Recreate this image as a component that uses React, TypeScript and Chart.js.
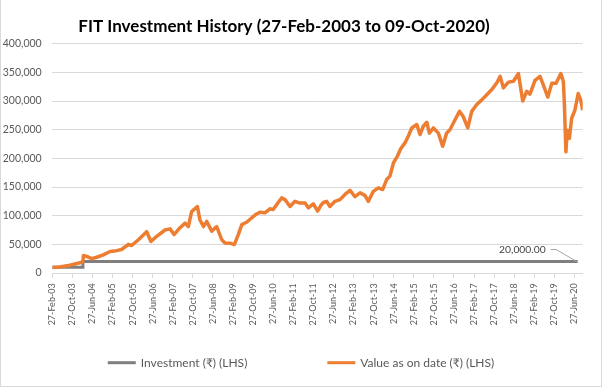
import React, { useEffect, useRef } from "react";
import { Chart, registerables } from "chart.js";

Chart.register(...registerables);

const TITLE = "FIT Investment History (27-Feb-2003 to 09-Oct-2020)";

const tickLabels = [
  "27-Feb-03", "27-Oct-03", "27-Jun-04", "27-Feb-05", "27-Oct-05", "27-Jun-06",
  "27-Feb-07", "27-Oct-07", "27-Jun-08", "27-Feb-09", "27-Oct-09", "27-Jun-10",
  "27-Feb-11", "27-Oct-11", "27-Jun-12", "27-Feb-13", "27-Oct-13", "27-Jun-14",
  "27-Feb-15", "27-Oct-15", "27-Jun-16", "27-Feb-17", "27-Oct-17", "27-Jun-18",
  "27-Feb-19", "27-Oct-19", "27-Jun-20",
];

const seriesNames = ["Investment (₹) (LHS)", "Value as on date (₹) (LHS)"];

// months elapsed since 27-Feb-2003
const investMonths = [0, 12.2, 12.2, 209.3];
const investAmounts = [10000, 10000, 20000, 20000];

// months elapsed since 27-Feb-2003
const valueMonths = [
  0, 3, 7, 11, 12.2, 12.4, 13.7, 15.7, 17.7, 20.3, 23, 25.6, 27.6, 30.3, 31.6,
  34.3, 37.6, 39.3, 41.6, 44.9, 46.9, 48.5, 50.9, 52.9, 54.2, 55.5, 57.8, 58.8,
  60.2, 61.5, 63.5, 65.5, 67.5, 68.8, 70.8, 72.5, 74.1, 75.5, 77.4, 79.4, 81.4,
  82.7, 84.7, 86.7, 88, 90, 91.4, 92.7, 94.7, 96.7, 98.7, 100.7, 102, 104, 105.7,
  107, 108, 109.3, 110.6, 112.6, 114.6, 116.6, 118.6, 120.6, 122.6, 124.6, 125.9,
  127.9, 129.9, 131.6, 133.2, 134.5, 135.9, 137.5, 138.8, 140.5, 141.8, 143.2,
  145.2, 146.5, 147.8, 149.2, 150.2, 151.8, 153.8, 155.5, 157.1, 158.4, 160.4,
  162.2, 163.7, 165.5, 167.1, 169.1, 171.1, 173.1, 175.1, 177.1, 178.4, 179.7,
  181.7, 183.7, 185.7, 187.4, 189, 190.3, 192.3, 194.3, 195.6, 197.4, 199, 200.7,
  202.6, 203.6, 204, 204.6, 205.2, 206, 206.9, 208.2, 209.5, 210.5, 211.3,
];
const valueAmounts = [
  9500, 10500, 13600, 17800, 20000, 30500, 29000, 25000, 27500, 31700, 37500,
  39000, 41000, 50000, 48000, 58000, 72000, 55000, 64000, 75000, 77000, 67000,
  79000, 87000, 81000, 107000, 116000, 93000, 81000, 90000, 73000, 81000, 58000,
  52500, 52000, 49600, 67000, 84500, 88500, 96000, 103000, 106000, 105000,
  112000, 110600, 123000, 131000, 128000, 116000, 125000, 122000, 122000,
  113600, 120600, 108000, 118000, 123000, 125000, 116000, 125000, 128000,
  137000, 144000, 133000, 140000, 135000, 125000, 142500, 148600, 145600,
  163000, 169000, 192000, 204000, 216600, 227000, 238500, 253000, 259000,
  241600, 256000, 263000, 244000, 253000, 244000, 221000, 244000, 250000,
  267000, 282000, 273000, 253000, 282000, 294000, 302000, 311000, 320000,
  332000, 343000, 323000, 333000, 334500, 348000, 300000, 317000, 312000,
  336000, 343000, 328000, 307000, 331000, 331000, 348000, 334000, 296000,
  211500, 249000, 235000, 270000, 284000, 313000, 302000, 284000,
];

const X_MAX = 211.3;
const TICK_STEP = 8;
const Y_MAX = 400000;
const Y_STEP = 50000;

const COLORS = ["#7F7F7F", "#ED7D31"];
const FONT = "Lato";

const titlePlugin = {
  id: "customTitle",
  afterDraw(chart: any) {
    const ctx = chart.ctx;
    ctx.save();
    ctx.font = `bold 17px ${FONT}`;
    ctx.fillStyle = "#000000";
    ctx.textAlign = "center";
    ctx.textBaseline = "alphabetic";
    ctx.fillText(TITLE, 283, 32);
    ctx.restore();
  },
};

const legendPlugin = {
  id: "customLegend",
  afterDraw(chart: any) {
    const ctx = chart.ctx;
    ctx.save();
    ctx.font = `12px ${FONT}`;
    const items = chart.data.datasets.map((ds: any) => ({ text: ds.label, color: ds.borderColor }));
    const lineW = 28;
    const gapText = 5;
    const gapItem = 80;
    const widths = items.map((it: any) => lineW + gapText + ctx.measureText(it.text).width);
    const total = widths.reduce((a: number, b: number) => a + b, 0) + gapItem * (items.length - 1);
    let x = chart.width / 2 - total / 2;
    const y = 362.7;
    items.forEach((it: any, i: number) => {
      ctx.strokeStyle = it.color;
      ctx.lineWidth = 3;
      ctx.beginPath();
      ctx.moveTo(x, y);
      ctx.lineTo(x + lineW, y);
      ctx.stroke();
      ctx.fillStyle = "#595959";
      ctx.textAlign = "left";
      ctx.textBaseline = "middle";
      ctx.fillText(it.text, x + lineW + gapText, y);
      x += widths[i] + gapItem;
    });
    ctx.restore();
  },
};

const labelPlugin = {
  id: "lastInvestLabel",
  afterDatasetsDraw(chart: any) {
    const meta = chart.getDatasetMeta(0);
    const pt = meta.data[meta.data.length - 1];
    if (!pt) return;
    const px = pt.x;
    const py = pt.y;
    const ctx = chart.ctx;
    ctx.save();
    ctx.strokeStyle = "#A6A6A6";
    ctx.lineWidth = 1;
    ctx.beginPath();
    ctx.moveTo(px - 27, py - 12);
    ctx.lineTo(px - 21.5, py - 12);
    ctx.lineTo(px - 1, py);
    ctx.stroke();
    const v = investAmounts[investAmounts.length - 1];
    ctx.font = `10.3px ${FONT}`;
    ctx.fillStyle = "#404040";
    ctx.textAlign = "right";
    ctx.textBaseline = "middle";
    ctx.fillText(v.toLocaleString("en-US", { minimumFractionDigits: 2, maximumFractionDigits: 2 }), px - 32, py - 11.5);
    ctx.restore();
  },
};

export default function App() {
  const ref = useRef<HTMLCanvasElement | null>(null);

  useEffect(() => {
    if (!ref.current) return;
    const chart = new Chart(ref.current, {
      type: "line",
      data: {
        datasets: [
          {
            label: seriesNames[0],
            data: investMonths.map((m, i) => ({ x: m, y: investAmounts[i] })),
            borderColor: COLORS[0],
            backgroundColor: COLORS[0],
            borderWidth: 3,
            pointRadius: 0,
            tension: 0,
            order: 1,
          },
          {
            label: seriesNames[1],
            data: valueMonths.map((m, i) => ({ x: m, y: valueAmounts[i] })),
            borderColor: COLORS[1],
            backgroundColor: COLORS[1],
            borderWidth: 3.5,
            pointRadius: 0,
            tension: 0,
            borderJoinStyle: "round",
            order: 0,
          },
        ],
      } as any,
      options: {
        responsive: false,
        animation: false,
        layout: { padding: { top: 43.7, right: 18.3, bottom: 0, left: 0 } },
        plugins: {
          legend: { display: false },
          title: { display: false },
          tooltip: { enabled: false },
        },
        scales: {
          x: {
            type: "linear",
            min: 0,
            max: X_MAX,
            afterBuildTicks: (s: any) => {
              s.ticks = tickLabels.map((_, i) => ({ value: i * TICK_STEP }));
            },
            afterFit: (s: any) => {
              s.height = 113;
            },
            ticks: {
              autoSkip: false,
              maxRotation: 90,
              minRotation: 90,
              padding: 5.3,
              color: "#595959",
              font: { family: FONT, size: 9 },
              callback: (_v: any, i: number) => tickLabels[i],
            },
            grid: { drawOnChartArea: false, drawTicks: true, tickLength: 5, color: "#D9D9D9" },
            border: { display: true, color: "#D9D9D9" },
          },
          y: {
            min: 0,
            max: Y_MAX,
            afterFit: (s: any) => {
              s.width = 51.3;
            },
            ticks: {
              stepSize: Y_STEP,
              padding: 10.6,
              color: "#595959",
              font: { family: FONT, size: 10.5 },
              callback: (v: any) => Number(v).toLocaleString("en-US"),
            },
            grid: { color: "#D9D9D9", drawTicks: false },
            border: { display: false },
          },
        },
      } as any,
      plugins: [titlePlugin, legendPlugin, labelPlugin],
    });
    return () => chart.destroy();
  }, []);

  return (
    <div
      style={{
        position: "fixed",
        left: 0,
        top: 0,
        width: 602,
        height: 387,
        boxSizing: "border-box",
        borderLeft: "1px solid #D9D9D9",
        borderRight: "1px solid #D9D9D9",
        borderBottom: "1px solid #D9D9D9",
        background: "#FFFFFF",
      }}
    >
      <canvas ref={ref} width={600} height={386} style={{ display: "block", width: 600, height: 386 }} />
    </div>
  );
}
